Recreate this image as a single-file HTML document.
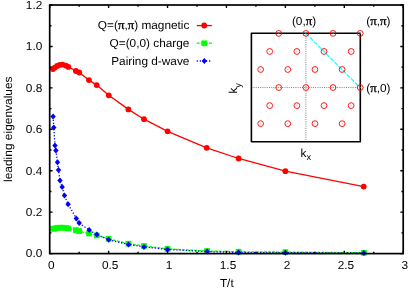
<!DOCTYPE html>
<html><head><meta charset="utf-8"><title>plot</title>
<style>
html,body{margin:0;padding:0;background:#fff;}
body{width:409px;height:288px;overflow:hidden;}
svg{display:block;will-change:transform;}
text{text-rendering:geometricPrecision;font-family:"Liberation Sans",sans-serif;font-size:11.6px;fill:#000;}
.sym{font-family:"Liberation Serif",serif;font-size:12.6px;stroke:#000;stroke-width:0.3px;}
</style></head><body>
<svg width="409" height="288" viewBox="0 0 409 288">
<rect width="409" height="288" fill="#fff"/>

<text transform="translate(42.3,257.4) scale(1.02,1)" text-anchor="end">0.0</text>
<text transform="translate(42.3,216.0) scale(1.02,1)" text-anchor="end">0.2</text>
<text transform="translate(42.3,174.5) scale(1.02,1)" text-anchor="end">0.4</text>
<text transform="translate(42.3,133.1) scale(1.02,1)" text-anchor="end">0.6</text>
<text transform="translate(42.3,91.7) scale(1.02,1)" text-anchor="end">0.8</text>
<text transform="translate(42.3,50.2) scale(1.02,1)" text-anchor="end">1.0</text>
<text transform="translate(42.3,8.8) scale(1.02,1)" text-anchor="end">1.2</text>
<text transform="translate(51.3,269.2) scale(1.02,1)" text-anchor="middle">0</text>
<text transform="translate(110.2,269.2) scale(1.02,1)" text-anchor="middle">0.5</text>
<text transform="translate(169.1,269.2) scale(1.02,1)" text-anchor="middle">1</text>
<text transform="translate(228.0,269.2) scale(1.02,1)" text-anchor="middle">1.5</text>
<text transform="translate(287.0,269.2) scale(1.02,1)" text-anchor="middle">2</text>
<text transform="translate(345.9,269.2) scale(1.02,1)" text-anchor="middle">2.5</text>
<text transform="translate(404.8,269.2) scale(1.02,1)" text-anchor="middle">3</text>
<text transform="translate(11.9,129.2) scale(1,1.03) rotate(-90)" text-anchor="middle">leading eigenvalues</text>
<text transform="translate(226.8,287) scale(1.02,1)" text-anchor="middle">T/t</text>
<polyline points="53.1,228.8 54.8,228.5 57.2,227.9 59.7,227.7 62.6,227.7 65.6,228.0 68.2,228.4 75.9,230.1 79.2,231.1 89.0,233.5 96.8,235.4 108.7,238.8 128.5,243.7 144.0,246.0 167.5,248.9 207.1,251.0 238.6,251.7 285.4,252.1 363.9,252.8" fill="none" stroke="#00ff00" stroke-width="1.3" stroke-dasharray="3,1.1"/>
<rect x="50.25" y="225.95" width="5.7" height="5.7" fill="#00ff00"/>
<rect x="51.95" y="225.65" width="5.7" height="5.7" fill="#00ff00"/>
<rect x="54.35" y="225.05" width="5.7" height="5.7" fill="#00ff00"/>
<rect x="56.85" y="224.85" width="5.7" height="5.7" fill="#00ff00"/>
<rect x="59.75" y="224.85" width="5.7" height="5.7" fill="#00ff00"/>
<rect x="62.75" y="225.15" width="5.7" height="5.7" fill="#00ff00"/>
<rect x="65.35" y="225.55" width="5.7" height="5.7" fill="#00ff00"/>
<rect x="73.05" y="227.25" width="5.7" height="5.7" fill="#00ff00"/>
<rect x="76.35" y="228.25" width="5.7" height="5.7" fill="#00ff00"/>
<rect x="86.15" y="230.65" width="5.7" height="5.7" fill="#00ff00"/>
<rect x="93.95" y="232.55" width="5.7" height="5.7" fill="#00ff00"/>
<rect x="105.85" y="235.95" width="5.7" height="5.7" fill="#00ff00"/>
<rect x="125.65" y="240.85" width="5.7" height="5.7" fill="#00ff00"/>
<rect x="141.15" y="243.15" width="5.7" height="5.7" fill="#00ff00"/>
<rect x="164.65" y="246.05" width="5.7" height="5.7" fill="#00ff00"/>
<rect x="204.25" y="248.15" width="5.7" height="5.7" fill="#00ff00"/>
<rect x="235.75" y="248.85" width="5.7" height="5.7" fill="#00ff00"/>
<rect x="282.55" y="249.25" width="5.7" height="5.7" fill="#00ff00"/>
<rect x="361.05" y="249.95" width="5.7" height="5.7" fill="#00ff00"/>
<polyline points="53.1,116.6 53.8,127.6 55.0,145.5 55.9,150.5 57.5,162.2 58.5,170.1 60.0,180.5 62.2,187.1 64.5,195.6 68.1,204.2 76.3,218.4 79.2,223.1 89.2,229.9 96.8,234.6 108.7,239.8 128.5,244.5 144.0,246.9 167.5,249.5 207.1,251.6 238.6,252.5 285.4,252.7 363.9,252.9" fill="none" stroke="#0000ff" stroke-width="1.3" stroke-dasharray="1.2,1.9"/>
<path d="M50.4,116.6L53.1,113.6L55.8,116.6L53.1,119.6Z" fill="#0000ff"/>
<path d="M51.1,127.6L53.8,124.6L56.5,127.6L53.8,130.6Z" fill="#0000ff"/>
<path d="M52.3,145.5L55.0,142.5L57.7,145.5L55.0,148.5Z" fill="#0000ff"/>
<path d="M53.2,150.5L55.9,147.5L58.6,150.5L55.9,153.5Z" fill="#0000ff"/>
<path d="M54.8,162.2L57.5,159.2L60.2,162.2L57.5,165.2Z" fill="#0000ff"/>
<path d="M55.8,170.1L58.5,167.1L61.2,170.1L58.5,173.1Z" fill="#0000ff"/>
<path d="M57.3,180.5L60.0,177.5L62.7,180.5L60.0,183.5Z" fill="#0000ff"/>
<path d="M59.5,187.1L62.2,184.1L64.9,187.1L62.2,190.1Z" fill="#0000ff"/>
<path d="M61.8,195.6L64.5,192.6L67.2,195.6L64.5,198.6Z" fill="#0000ff"/>
<path d="M65.4,204.2L68.1,201.2L70.8,204.2L68.1,207.2Z" fill="#0000ff"/>
<path d="M73.6,218.4L76.3,215.4L79.0,218.4L76.3,221.4Z" fill="#0000ff"/>
<path d="M76.5,223.1L79.2,220.1L81.9,223.1L79.2,226.1Z" fill="#0000ff"/>
<path d="M86.5,229.9L89.2,226.9L91.9,229.9L89.2,232.9Z" fill="#0000ff"/>
<path d="M94.1,234.6L96.8,231.6L99.5,234.6L96.8,237.6Z" fill="#0000ff"/>
<path d="M106.0,239.8L108.7,236.8L111.4,239.8L108.7,242.8Z" fill="#0000ff"/>
<path d="M125.8,244.5L128.5,241.5L131.2,244.5L128.5,247.5Z" fill="#0000ff"/>
<path d="M141.3,246.9L144.0,243.9L146.7,246.9L144.0,249.9Z" fill="#0000ff"/>
<path d="M164.8,249.5L167.5,246.5L170.2,249.5L167.5,252.5Z" fill="#0000ff"/>
<path d="M204.4,251.6L207.1,248.6L209.8,251.6L207.1,254.6Z" fill="#0000ff"/>
<path d="M235.9,252.5L238.6,249.5L241.3,252.5L238.6,255.5Z" fill="#0000ff"/>
<path d="M282.7,252.7L285.4,249.7L288.1,252.7L285.4,255.7Z" fill="#0000ff"/>
<path d="M361.2,252.9L363.9,249.9L366.6,252.9L363.9,255.9Z" fill="#0000ff"/>
<polyline points="52.9,69.0 54.8,67.6 57.2,65.9 59.7,64.9 62.6,64.6 65.8,65.6 68.4,66.9 75.9,71.0 79.2,72.5 89.0,80.1 96.7,85.1 108.8,95.3 128.4,109.4 144.0,119.2 167.6,131.3 206.7,147.8 238.6,158.5 285.4,171.2 363.7,186.6" fill="none" stroke="#ff0000" stroke-width="1.3"/>
<circle cx="52.9" cy="69.0" r="2.9" fill="#ff0000"/>
<circle cx="54.8" cy="67.6" r="2.9" fill="#ff0000"/>
<circle cx="57.2" cy="65.9" r="2.9" fill="#ff0000"/>
<circle cx="59.7" cy="64.9" r="2.9" fill="#ff0000"/>
<circle cx="62.6" cy="64.6" r="2.9" fill="#ff0000"/>
<circle cx="65.8" cy="65.6" r="2.9" fill="#ff0000"/>
<circle cx="68.4" cy="66.9" r="2.9" fill="#ff0000"/>
<circle cx="75.9" cy="71.0" r="2.9" fill="#ff0000"/>
<circle cx="79.2" cy="72.5" r="2.9" fill="#ff0000"/>
<circle cx="89.0" cy="80.1" r="2.9" fill="#ff0000"/>
<circle cx="96.7" cy="85.1" r="2.9" fill="#ff0000"/>
<circle cx="108.8" cy="95.3" r="2.9" fill="#ff0000"/>
<circle cx="128.4" cy="109.4" r="2.9" fill="#ff0000"/>
<circle cx="144.0" cy="119.2" r="2.9" fill="#ff0000"/>
<circle cx="167.6" cy="131.3" r="2.9" fill="#ff0000"/>
<circle cx="206.7" cy="147.8" r="2.9" fill="#ff0000"/>
<circle cx="238.6" cy="158.5" r="2.9" fill="#ff0000"/>
<circle cx="285.4" cy="171.2" r="2.9" fill="#ff0000"/>
<circle cx="363.7" cy="186.6" r="2.9" fill="#ff0000"/>
<text transform="translate(189.4,29.3) scale(1.02,1)" text-anchor="end">Q=(<tspan class="sym">π</tspan>,<tspan class="sym">π</tspan>) magnetic</text>
<text transform="translate(189.4,47.2) scale(1.02,1)" text-anchor="end">Q=(0,0) charge</text>
<text transform="translate(189.4,65.0) scale(1.02,1)" text-anchor="end">Pairing d-wave</text>
<path d="M196.8,25.6H211.8" stroke="#ff0000" stroke-width="1.3"/><circle cx="204.2" cy="25.5" r="2.9" fill="#ff0000"/>
<path d="M196.7,43.2H212" stroke="#00ff00" stroke-width="1.3" stroke-dasharray="3,1.1"/><rect x="201.4" y="40.45" width="5.7" height="5.7" fill="#00ff00"/>
<path d="M196.7,61H211.8" stroke="#0000ff" stroke-width="1.3" stroke-dasharray="1.2,1.9"/><path d="M201.6,61L204.3,58L207,61L204.3,64Z" fill="#0000ff"/>
<path d="M305.9,33.3V141.8M251.4,87.55H360.3" stroke="#707070" stroke-width="0.9" stroke-dasharray="1,1.2" fill="none"/>
<path d="M305.9,33.3L360.0,87.55" stroke="#00ffff" stroke-width="1.1" stroke-dasharray="4.5,1.3" fill="none"/>
<rect x="251.4" y="33.3" width="108.9" height="108.5" fill="none" stroke="#000" stroke-width="1.6" stroke-linejoin="round"/>
<circle cx="278.75" cy="33.4" r="2.9" fill="none" stroke="#ff0000" stroke-width="0.9"/><circle cx="278.75" cy="33.4" r="0.5" fill="#ff8080"/>
<circle cx="305.9" cy="33.4" r="2.9" fill="none" stroke="#ff0000" stroke-width="0.9"/><circle cx="305.9" cy="33.4" r="0.5" fill="#ff8080"/>
<circle cx="333.05" cy="33.4" r="2.9" fill="none" stroke="#ff0000" stroke-width="0.9"/><circle cx="333.05" cy="33.4" r="0.5" fill="#ff8080"/>
<circle cx="360.2" cy="33.4" r="2.9" fill="none" stroke="#ff0000" stroke-width="0.9"/><circle cx="360.2" cy="33.4" r="0.5" fill="#ff8080"/>
<circle cx="269.7" cy="51.45" r="2.9" fill="none" stroke="#ff0000" stroke-width="0.9"/><circle cx="269.7" cy="51.45" r="0.5" fill="#ff8080"/>
<circle cx="296.85" cy="51.45" r="2.9" fill="none" stroke="#ff0000" stroke-width="0.9"/><circle cx="296.85" cy="51.45" r="0.5" fill="#ff8080"/>
<circle cx="324.0" cy="51.45" r="2.9" fill="none" stroke="#ff0000" stroke-width="0.9"/><circle cx="324.0" cy="51.45" r="0.5" fill="#ff8080"/>
<circle cx="351.15" cy="51.45" r="2.9" fill="none" stroke="#ff0000" stroke-width="0.9"/><circle cx="351.15" cy="51.45" r="0.5" fill="#ff8080"/>
<circle cx="260.65" cy="69.5" r="2.9" fill="none" stroke="#ff0000" stroke-width="0.9"/><circle cx="260.65" cy="69.5" r="0.5" fill="#ff8080"/>
<circle cx="287.8" cy="69.5" r="2.9" fill="none" stroke="#ff0000" stroke-width="0.9"/><circle cx="287.8" cy="69.5" r="0.5" fill="#ff8080"/>
<circle cx="314.95" cy="69.5" r="2.9" fill="none" stroke="#ff0000" stroke-width="0.9"/><circle cx="314.95" cy="69.5" r="0.5" fill="#ff8080"/>
<circle cx="342.1" cy="69.5" r="2.9" fill="none" stroke="#ff0000" stroke-width="0.9"/><circle cx="342.1" cy="69.5" r="0.5" fill="#ff8080"/>
<circle cx="278.75" cy="87.55" r="2.9" fill="none" stroke="#ff0000" stroke-width="0.9"/><circle cx="278.75" cy="87.55" r="0.5" fill="#ff8080"/>
<circle cx="305.9" cy="87.55" r="2.9" fill="none" stroke="#ff0000" stroke-width="0.9"/><circle cx="305.9" cy="87.55" r="0.5" fill="#ff8080"/>
<circle cx="333.05" cy="87.55" r="2.9" fill="none" stroke="#ff0000" stroke-width="0.9"/><circle cx="333.05" cy="87.55" r="0.5" fill="#ff8080"/>
<circle cx="360.2" cy="87.55" r="2.9" fill="none" stroke="#ff0000" stroke-width="0.9"/><circle cx="360.2" cy="87.55" r="0.5" fill="#ff8080"/>
<circle cx="269.7" cy="105.6" r="2.9" fill="none" stroke="#ff0000" stroke-width="0.9"/><circle cx="269.7" cy="105.6" r="0.5" fill="#ff8080"/>
<circle cx="296.85" cy="105.6" r="2.9" fill="none" stroke="#ff0000" stroke-width="0.9"/><circle cx="296.85" cy="105.6" r="0.5" fill="#ff8080"/>
<circle cx="324.0" cy="105.6" r="2.9" fill="none" stroke="#ff0000" stroke-width="0.9"/><circle cx="324.0" cy="105.6" r="0.5" fill="#ff8080"/>
<circle cx="351.15" cy="105.6" r="2.9" fill="none" stroke="#ff0000" stroke-width="0.9"/><circle cx="351.15" cy="105.6" r="0.5" fill="#ff8080"/>
<circle cx="260.65" cy="123.65" r="2.9" fill="none" stroke="#ff0000" stroke-width="0.9"/><circle cx="260.65" cy="123.65" r="0.5" fill="#ff8080"/>
<circle cx="287.8" cy="123.65" r="2.9" fill="none" stroke="#ff0000" stroke-width="0.9"/><circle cx="287.8" cy="123.65" r="0.5" fill="#ff8080"/>
<circle cx="314.95" cy="123.65" r="2.9" fill="none" stroke="#ff0000" stroke-width="0.9"/><circle cx="314.95" cy="123.65" r="0.5" fill="#ff8080"/>
<circle cx="342.1" cy="123.65" r="2.9" fill="none" stroke="#ff0000" stroke-width="0.9"/><circle cx="342.1" cy="123.65" r="0.5" fill="#ff8080"/>
<text transform="translate(304.0,24.7) scale(1.02,1)" text-anchor="middle">(0,<tspan class="sym">π</tspan>)</text>
<text transform="translate(378.3,24.7) scale(1.02,1)" text-anchor="middle">(<tspan class="sym">π</tspan>,<tspan class="sym">π</tspan>)</text>
<text transform="translate(366.3,91.7) scale(1.02,1)" text-anchor="start">(<tspan class="sym">π</tspan>,0)</text>
<text transform="translate(300.6,156.6) scale(1.02,1)" text-anchor="start">k<tspan dy="3.5" font-size="9">x</tspan></text>
<text transform="translate(237.4,93.6) scale(1,1.03) rotate(-90)" text-anchor="start">k<tspan dy="3.5" font-size="9">y</tspan></text>
<path d="M49.70,253.60h2.9M403.20,253.60h-2.9M49.70,232.88h1.8M403.20,232.88h-1.8M49.70,212.17h2.9M403.20,212.17h-2.9M49.70,191.45h1.8M403.20,191.45h-1.8M49.70,170.73h2.9M403.20,170.73h-2.9M49.70,150.02h1.8M403.20,150.02h-1.8M49.70,129.30h2.9M403.20,129.30h-2.9M49.70,108.58h1.8M403.20,108.58h-1.8M49.70,87.87h2.9M403.20,87.87h-2.9M49.70,67.15h1.8M403.20,67.15h-1.8M49.70,46.43h2.9M403.20,46.43h-2.9M49.70,25.72h1.8M403.20,25.72h-1.8M49.70,5.00h2.9M403.20,5.00h-2.9M49.70,253.60v-2.9M49.70,5.00v2.9M79.16,253.60v-1.8M79.16,5.00v1.8M108.62,253.60v-2.9M108.62,5.00v2.9M138.07,253.60v-1.8M138.07,5.00v1.8M167.53,253.60v-2.9M167.53,5.00v2.9M196.99,253.60v-1.8M196.99,5.00v1.8M226.45,253.60v-2.9M226.45,5.00v2.9M255.91,253.60v-1.8M255.91,5.00v1.8M285.37,253.60v-2.9M285.37,5.00v2.9M314.82,253.60v-1.8M314.82,5.00v1.8M344.28,253.60v-2.9M344.28,5.00v2.9M373.74,253.60v-1.8M373.74,5.00v1.8M403.20,253.60v-2.9M403.20,5.00v2.9" stroke="#000" stroke-width="1.4" fill="none"/>
<rect x="49.7" y="5.0" width="353.50" height="248.60" fill="none" stroke="#000" stroke-width="1.7"/>
</svg></body></html>
